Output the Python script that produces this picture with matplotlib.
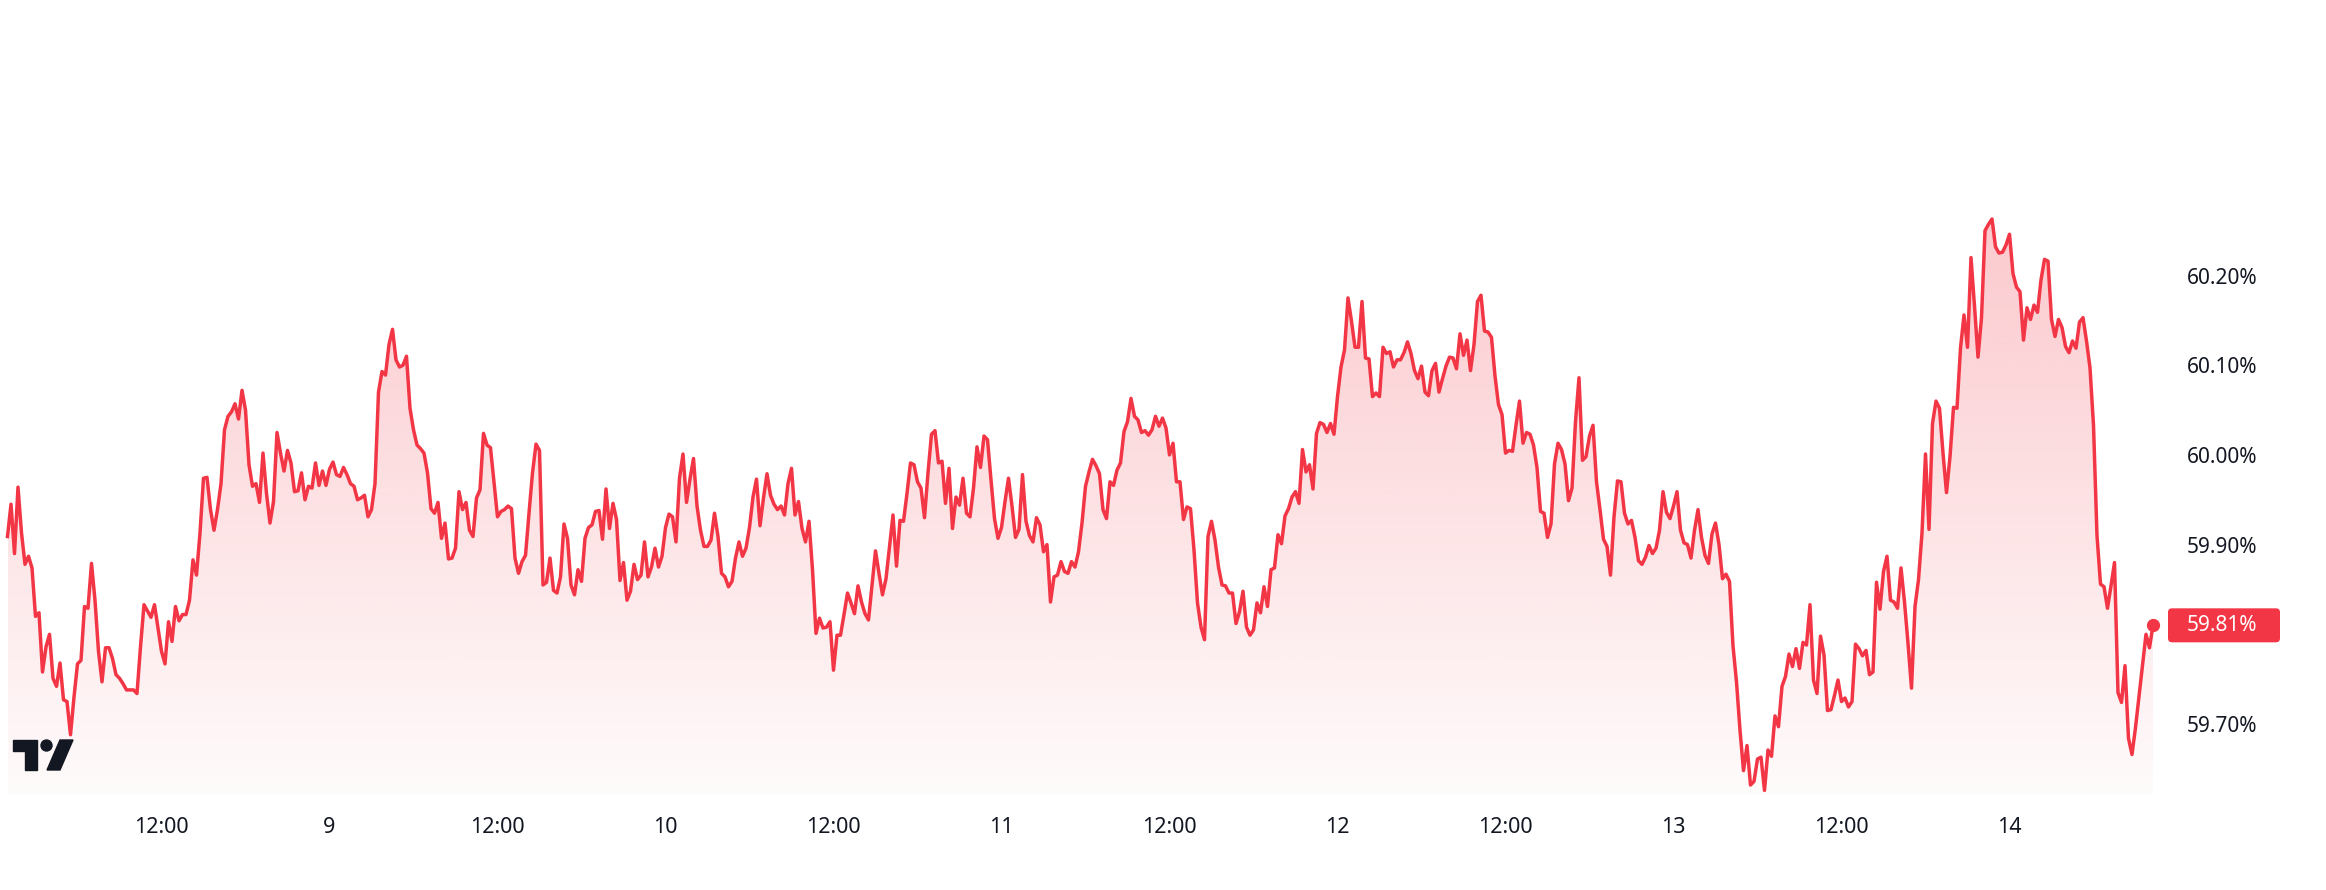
import numpy as np
import pandas as pd
import matplotlib
matplotlib.use('Agg')
import matplotlib.pyplot as plt
import matplotlib.dates as mdates
import matplotlib.transforms as mtransforms
from matplotlib.patches import FancyBboxPatch, Polygon, Circle
from matplotlib.colors import to_rgb

plt.rcParams['font.family'] = ['Noto Sans', 'DejaVu Sans']

# 15 minute closes, one list per day (day 8 starts at 01:00, day 14 ends at 10:15)
day8 = [59.909, 59.945, 59.890, 59.964, 59.913, 59.878, 59.887, 59.874, 59.820, 59.824,
        59.758, 59.786, 59.800, 59.751, 59.742, 59.768, 59.727, 59.725, 59.688, 59.730,
        59.767, 59.771, 59.831, 59.829, 59.879, 59.838, 59.781, 59.747, 59.785, 59.785,
        59.773, 59.755, 59.751, 59.745, 59.738, 59.738, 59.738, 59.734, 59.786, 59.833,
        59.826, 59.819, 59.833, 59.807, 59.781, 59.767, 59.814, 59.792, 59.831, 59.815,
        59.822, 59.822, 59.838, 59.883, 59.866, 59.913, 59.974, 59.975, 59.939, 59.916,
        59.939, 59.968, 60.028, 60.043, 60.048, 60.057, 60.040, 60.072, 60.050, 59.989,
        59.965, 59.968, 59.947, 60.002, 59.957, 59.924, 59.948, 60.025, 60.002, 59.982,
        60.005, 59.991, 59.959, 59.960, 59.980, 59.950, 59.965, 59.963, 59.991, 59.966,
        59.982, 59.966]
day9 = [59.984, 59.992, 59.978, 59.976, 59.986, 59.978, 59.968, 59.965,
        59.950, 59.952, 59.955, 59.931, 59.939, 59.968, 60.070, 60.093, 60.089, 60.123,
        60.140, 60.106, 60.098, 60.100, 60.110, 60.052, 60.028, 60.011, 60.007, 60.002,
        59.980, 59.940, 59.935, 59.947, 59.907, 59.924, 59.884, 59.885, 59.896, 59.959,
        59.939, 59.947, 59.916, 59.909, 59.952, 59.961, 60.024, 60.011, 60.008, 59.970,
        59.931, 59.937, 59.939, 59.943, 59.940, 59.885, 59.868, 59.881, 59.888, 59.935,
        59.980, 60.012, 60.005, 59.855, 59.858, 59.885, 59.849, 59.846, 59.864, 59.923,
        59.907, 59.855, 59.844, 59.872, 59.859, 59.907, 59.919, 59.922, 59.937, 59.938,
        59.906, 59.962, 59.918, 59.946, 59.928, 59.860, 59.880, 59.838, 59.848, 59.878,
        59.861, 59.866, 59.903, 59.864, 59.875, 59.896, 59.875, 59.887]
day10 = [59.919, 59.934, 59.931, 59.903, 59.974, 60.001, 59.947, 59.973, 59.996, 59.943, 59.916, 59.898,
         59.898, 59.905, 59.935, 59.909, 59.868, 59.864, 59.853, 59.859, 59.885, 59.903,
         59.887, 59.896, 59.919, 59.953, 59.973, 59.921, 59.952, 59.979, 59.955, 59.945,
         59.939, 59.943, 59.933, 59.968, 59.985, 59.933, 59.948, 59.918, 59.903, 59.926,
         59.872, 59.801, 59.818, 59.807, 59.808, 59.814, 59.760, 59.799, 59.799, 59.822,
         59.846, 59.835, 59.823, 59.854, 59.836, 59.823, 59.816, 59.855, 59.893, 59.868,
         59.844, 59.862, 59.898, 59.933, 59.876, 59.927, 59.926, 59.957, 59.991, 59.989,
         59.970, 59.963, 59.930, 59.980, 60.023, 60.027, 59.991, 59.993, 59.946, 59.985,
         59.918, 59.953, 59.944, 59.974, 59.935, 59.931, 59.963, 60.009, 59.986, 60.021,
         60.017, 59.972, 59.929, 59.907]
day11 = [59.919, 59.948, 59.974, 59.943, 59.908, 59.917,
         59.978, 59.926, 59.910, 59.903, 59.930, 59.922, 59.892, 59.900, 59.836, 59.864,
         59.866, 59.881, 59.870, 59.868, 59.881, 59.875, 59.892, 59.924, 59.965, 59.981,
         59.995, 59.988, 59.979, 59.939, 59.929, 59.970, 59.966, 59.983, 59.991, 60.026,
         60.037, 60.063, 60.043, 60.039, 60.025, 60.027, 60.022, 60.028, 60.043, 60.032,
         60.041, 60.030, 60.000, 60.013, 59.970, 59.970, 59.928, 59.942, 59.940, 59.894,
         59.835, 59.808, 59.794, 59.909, 59.926, 59.905, 59.875, 59.855, 59.854, 59.846,
         59.846, 59.812, 59.825, 59.848, 59.808, 59.799, 59.805, 59.835, 59.824, 59.853,
         59.831, 59.872, 59.874, 59.911, 59.901, 59.932, 59.940, 59.953, 59.959, 59.946,
         60.006, 59.981, 59.989, 59.962, 60.024, 60.036, 60.034, 60.025, 60.035, 60.023]
day12 = [60.065, 60.098, 60.117, 60.175, 60.149, 60.120, 60.120, 60.171, 60.108, 60.107,
         60.065, 60.069, 60.065, 60.120, 60.113, 60.115, 60.098, 60.106, 60.106, 60.114,
         60.126, 60.113, 60.094, 60.085, 60.099, 60.070, 60.066, 60.094, 60.102, 60.070,
         60.085, 60.099, 60.109, 60.108, 60.096, 60.135, 60.111, 60.128, 60.094, 60.123,
         60.171, 60.178, 60.138, 60.137, 60.131, 60.088, 60.056, 60.045, 60.002, 60.005,
         60.004, 60.033, 60.060, 60.013, 60.025, 60.023, 60.011, 59.986, 59.937, 59.935,
         59.908, 59.923, 59.990, 60.013, 60.006, 59.990, 59.949, 59.963, 60.037, 60.086,
         59.994, 59.998, 60.021, 60.033, 59.970, 59.939, 59.906, 59.898, 59.866, 59.931,
         59.971, 59.970, 59.935, 59.923, 59.927, 59.908, 59.882, 59.878, 59.886, 59.899,
         59.890, 59.896, 59.916, 59.959, 59.936, 59.929]
day13 = [59.943, 59.959, 59.916, 59.902,
         59.900, 59.885, 59.916, 59.939, 59.908, 59.888, 59.879, 59.912, 59.924, 59.900,
         59.862, 59.867, 59.859, 59.787, 59.747, 59.693, 59.648, 59.676, 59.632, 59.636,
         59.661, 59.663, 59.626, 59.671, 59.664, 59.709, 59.697, 59.742, 59.753, 59.778,
         59.764, 59.784, 59.762, 59.791, 59.788, 59.833, 59.749, 59.734, 59.798, 59.777,
         59.715, 59.716, 59.732, 59.749, 59.725, 59.729, 59.719, 59.725, 59.789, 59.784,
         59.776, 59.782, 59.755, 59.758, 59.858, 59.828, 59.870, 59.887, 59.838, 59.836,
         59.829, 59.874, 59.836, 59.790, 59.740, 59.831, 59.861, 59.913, 60.001, 59.917,
         60.035, 60.060, 60.052, 60.002, 59.958, 59.998, 60.053, 60.052, 60.119, 60.156,
         60.120, 60.220, 60.166, 60.109, 60.153, 60.250, 60.257, 60.263, 60.232, 60.225,
         60.226, 60.234]
day14 = [60.246, 60.202, 60.187, 60.182, 60.128, 60.164, 60.151, 60.167,
         60.159, 60.195, 60.218, 60.216, 60.151, 60.132, 60.151, 60.142, 60.121, 60.114,
         60.127, 60.119, 60.148, 60.153, 60.127, 60.097, 60.033, 59.910, 59.856, 59.853,
         59.829, 59.854, 59.880, 59.735, 59.724, 59.765, 59.684, 59.666, 59.696, 59.731,
         59.767, 59.800, 59.785, 59.810]

start_time = '2025-06-08 01:00'
price_ticks = [59.70, 59.90, 60.00, 60.10, 60.20]
time_ticks = pd.date_range('2025-06-08 12:00', '2025-06-14 00:00', freq='12h')

RED = '#F23645'
TEXT = '#131722'
W, H = 2326, 890

values = np.array(day8 + day9 + day10 + day11 + day12 + day13 + day14)
times = pd.date_range(start_time, periods=len(values), freq='15min')
x = mdates.date2num(times)

fig = plt.figure(figsize=(W / 100, H / 100), dpi=100)
fig.patch.set_facecolor('white')
ax = fig.add_axes([0, 95 / H, 2165 / W, 795 / H])

# gradient area under the line
ybot = 60.20 - (795 - 275.5) / 897
ytop = 60.20 + 275.5 / 897
grad = np.zeros((256, 1, 4))
grad[..., :3] = to_rgb(RED)
grad[..., 3] = np.linspace(0.27, 0.02, 256)[:, None]
im = ax.imshow(grad, extent=[x[0], x[-1], ybot, values.max()], origin='upper',
               aspect='auto', interpolation='bilinear', zorder=1)
verts = np.vstack([np.column_stack([x, values]), [[x[-1], ybot], [x[0], ybot]]])
clip = Polygon(verts, closed=True, facecolor='none', edgecolor='none', transform=ax.transData)
ax.add_patch(clip)
im.set_clip_path(clip)

ax.plot(x, values, color=RED, lw=2.5, zorder=3)
ax.plot(x[-1], values[-1], 'o', ms=8.5, color=RED, zorder=4)

day9_num = mdates.date2num(pd.Timestamp('2025-06-09'))
ax.set_xlim(day9_num - 329.5 / 336, day9_num + (2165 - 329.5) / 336)
ax.set_ylim(ybot, ytop)

for s in ax.spines.values():
    s.set_visible(False)

ax.yaxis.tick_right()
ax.set_yticks(price_ticks)
ax.set_yticklabels([f'{v:.2f}%' for v in price_ticks])
ax.tick_params(axis='y', length=0, pad=15.5, labelsize=15, labelcolor=TEXT)

ax.set_xticks(mdates.date2num(time_ticks))
ax.set_xticklabels(['12:00' if t.hour == 12 else str(t.day) for t in time_ticks])
ax.tick_params(axis='x', length=0, pad=16, labelsize=15.5, labelcolor=TEXT)
for lab, t in zip(ax.get_xticklabels(), time_ticks):
    if t.hour == 0:
        lab.set_fontweight('bold')

# last value badge on the price scale
yc = ax.transData.transform((x[-1], values[-1]))[1]
badge = FancyBboxPatch((2168, yc - 17), 112, 34, boxstyle='round,pad=0,rounding_size=4',
                       transform=mtransforms.IdentityTransform(), facecolor=RED, edgecolor='none')
fig.add_artist(badge)
fig.text(2186.5 / W, yc / H, f'{values[-1]:.2f}%', color='white', fontsize=15,
         fontweight='bold', va='center', ha='left')

# small TV logo, bottom left
ident = mtransforms.IdentityTransform()
logo_t = [(13, 740), (37, 740), (37, 770), (25, 770), (25, 751), (13, 751)]
logo_s = [(60, 740), (73, 740), (60, 770), (47, 770)]
fig.add_artist(Polygon([(a, H - b) for a, b in logo_t], closed=True, color=TEXT, transform=ident))
fig.add_artist(Polygon([(a, H - b) for a, b in logo_s], closed=True, color=TEXT, transform=ident))
fig.add_artist(Circle((46.5, H - 745.5), 5.5, color=TEXT, transform=ident))

fig.savefig('out.png', dpi=100, facecolor='white')
